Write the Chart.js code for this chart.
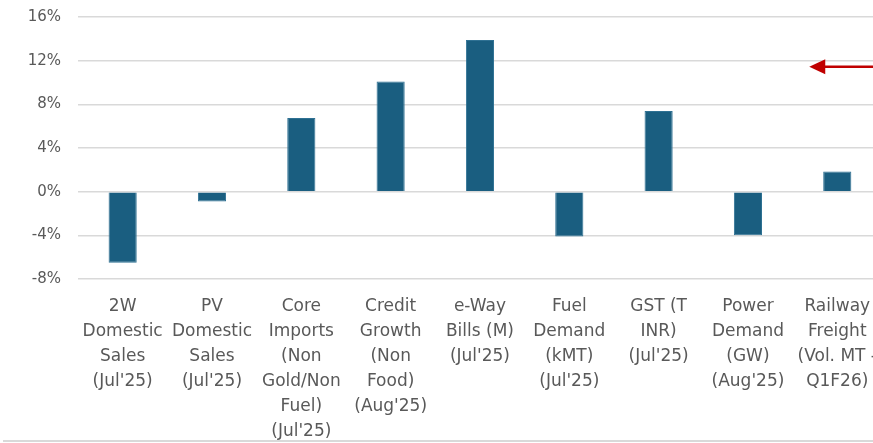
<!DOCTYPE html>
<html>
<head>
<meta charset="utf-8">
<script src="https://cdn.jsdelivr.net/npm/chart.js@4"></script>
<style>
  html, body { margin: 0; padding: 0; background: #fff; }
  #wrap { position: relative; width: 873px; height: 443px; overflow: hidden; }
  #wrap canvas { position: absolute; left: 0; top: 0; }
  #baseLine { position: absolute; left: 3px; right: 0; top: 440px; height: 2px; background: #d9d9d9; }
</style>
</head>
<body>
<div id="wrap">
  <canvas id="chart" width="892" height="443"></canvas>
  <div id="baseLine"></div>
</div>
<script>
"use strict";

// カテゴリ (複数行ラベル)
const categories = [
    ["2W", "Domestic", "Sales", "(Jul'25)"],
    ["PV", "Domestic", "Sales", "(Jul'25)"],
    ["Core", "Imports", "(Non", "Gold/Non", "Fuel)", "(Jul'25)"],
    ["Credit", "Growth", "(Non", "Food)", "(Aug'25)"],
    ["e-Way", "Bills (M)", "(Jul'25)"],
    ["Fuel", "Demand", "(kMT)", "(Jul'25)"],
    ["GST (T", "INR)", "(Jul'25)"],
    ["Power", "Demand", "(GW)", "(Aug'25)"],
    ["Railway", "Freight", "(Vol. MT -", "Q1F26)"]
];
// 前年比 (%)
const growth = [-6.5, -0.9, 6.75, 10.1, 13.9, -4.1, 7.4, -4.0, 1.85];
// y軸目盛
const yTicks = [-8, -4, 0, 4, 8, 12, 16];
// 矢印の高さ (%)
const arrowLevel = 11.45;

const textColor = "#595959";
const gridColor = "#d9d9d9";

// 右端の赤矢印
const arrowPlugin = {
    id: "arrow",
    afterDraw(chart) {
        const ctx = chart.ctx;
        const y = chart.scales.y.getPixelForValue(arrowLevel);
        const tip = chart.scales.x.getPixelForValue(8) - 28;
        ctx.save();
        ctx.strokeStyle = "#c00000";
        ctx.fillStyle = "#c00000";
        ctx.lineWidth = 2.5;
        ctx.beginPath();
        ctx.moveTo(tip + 12, y);
        ctx.lineTo(chart.width, y);
        ctx.stroke();
        ctx.beginPath();
        ctx.moveTo(tip, y);
        ctx.lineTo(tip + 16, y - 7.5);
        ctx.lineTo(tip + 16, y + 7.5);
        ctx.closePath();
        ctx.fill();
        ctx.restore();
    }
};

const ctx = document.getElementById("chart");
new Chart(ctx, {
    type: "bar",
    data: {
        labels: categories,
        datasets: [{
            data: growth,
            backgroundColor: "#1a5e80",
            borderColor: "#2f7193",
            borderWidth: 1,
            barPercentage: 0.315,
            categoryPercentage: 1.0
        }]
    },
    options: {
        responsive: false,
        animation: false,
        layout: { padding: { top: 17, right: 0, left: 0, bottom: 0 } },
        plugins: {
            legend: { display: false },
            tooltip: { enabled: false }
        },
        scales: {
            x: {
                grid: { display: false, drawTicks: false },
                border: { display: false },
                ticks: {
                    color: textColor,
                    font: { family: "DejaVu Sans", size: 17, lineHeight: 1.47 },
                    padding: 15,
                    maxRotation: 0,
                    autoSkip: false
                },
                afterFit: scale => { scale.height = 164; }
            },
            y: {
                min: -8,
                max: 16,
                afterBuildTicks: scale => {
                    scale.ticks = yTicks.map(v => ({ value: v }));
                },
                grid: { color: gridColor, lineWidth: 1.5, drawTicks: false },
                border: { display: false },
                ticks: {
                    color: textColor,
                    font: { family: "DejaVu Sans", size: 15 },
                    padding: 17,
                    callback: value => `${value}%`
                },
                afterFit: scale => {
                    scale.width = 78;
                    scale.paddingTop = 0;
                    scale.paddingBottom = 0;
                }
            }
        }
    },
    plugins: [arrowPlugin]
});
</script>
</body>
</html>
